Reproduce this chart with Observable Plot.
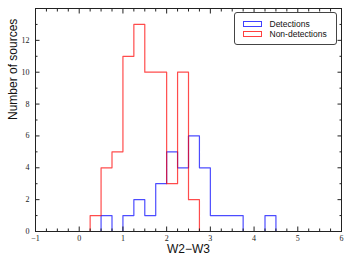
<!DOCTYPE html>
<html><head><meta charset="utf-8">
<script src="https://cdn.jsdelivr.net/npm/d3@7"></script>
<script src="https://cdn.jsdelivr.net/npm/@observablehq/plot@0.6"></script>
<style>
body{margin:0;background:#fff;}
#wrap{position:relative;width:352px;height:264px;}
.legend{position:absolute;left:234px;top:12px;width:101px;height:31px;border:1px solid #444;border-radius:3px;background:#fff;font-family:"Liberation Sans",Arial,sans-serif;font-size:8.5px;color:#111;}
.sw{position:absolute;left:8px;width:17px;height:4px;border:1px solid;}
.lt{position:absolute;left:34.5px;line-height:10px;white-space:nowrap;}
</style>
</head><body>
<div id="wrap"></div>
<script>
const binStart = [-1,-0.75,-0.5,-0.25,0,0.25,0.5,0.75,1,1.25,1.5,1.75,2,2.25,2.5,2.75,3,3.25,3.5,3.75,4,4.25,4.5,4.75,5,5.25,5.5,5.75];
const binEnd = 6;
const detections    = [0,0,0,0,0,0,1,0,1,2,1,3,5,4,6,4,1,1,1,0,0,1,0,0,0,0,0,0];
const nonDetections = [0,0,0,0,0,1,4,5,11,13,10,10,3,10,2,0,0,0,0,0,0,0,0,0,0,0,0,0];
const seriesNames = ["Detections","Non-detections"];
const seriesColors = ["#0000ff","#ff0000"];
const xMajor = [-1,0,1,2,3,4,5,6];
const xMinor = [-0.75,-0.5,-0.25,0.25,0.5,0.75,1.25,1.5,1.75,2.25,2.5,2.75,3.25,3.5,3.75,4.25,4.5,4.75,5.25,5.5,5.75];
const yMajor = [0,2,4,6,8,10,12];
const yMinor = [1,3,5,7,9,11,13];
const xLabel = "W2−W3";
const yLabel = "Number of sources";

function steps(counts){
  const pts = binStart.map((x,i)=>({x, y:counts[i]}));
  pts.push({x: binEnd, y: counts[counts.length-1]});
  return pts;
}
const fmt = d => d < 0 ? "−" + Math.abs(d) : String(d);
const blank = () => "";
const serif = "Liberation Serif, serif";
const sans = "Liberation Sans, Arial, sans-serif";

const chart = Plot.plot({
  width:352, height:264, marginLeft:35, marginRight:11, marginTop:8, marginBottom:33,
  x:{domain:[-1,6]}, y:{domain:[0,14]},
  style:{background:"white", fontFamily:serif, fontSize:"8px", color:"#222"},
  marks:[
    Plot.line(steps(detections), {x:"x", y:"y", curve:"step-after", stroke:seriesColors[0], strokeOpacity:0.7, strokeWidth:1.2}),
    Plot.line(steps(nonDetections), {x:"x", y:"y", curve:"step-after", stroke:seriesColors[1], strokeOpacity:0.7, strokeWidth:1.2}),
    Plot.axisX({ticks:xMajor, tickSize:-4.5, tickPadding:8.5, tickFormat:fmt, label:null, fontFamily:serif, fontSize:8}),
    Plot.axisX({ticks:xMinor, tickSize:-2.5, tickFormat:blank, label:null}),
    Plot.axisX({anchor:"top", ticks:xMajor, tickSize:-4.5, tickFormat:blank, label:null}),
    Plot.axisX({anchor:"top", ticks:xMinor, tickSize:-2.5, tickFormat:blank, label:null}),
    Plot.axisY({ticks:yMajor, tickSize:-4.5, tickPadding:10.5, tickFormat:fmt, label:null, fontFamily:serif, fontSize:8}),
    Plot.axisY({ticks:yMinor, tickSize:-2.5, tickFormat:blank, label:null}),
    Plot.axisY({anchor:"right", ticks:yMajor, tickSize:-4.5, tickFormat:blank, label:null}),
    Plot.axisY({anchor:"right", ticks:yMinor, tickSize:-2.5, tickFormat:blank, label:null}),
    Plot.frame({stroke:"#222"}),
    Plot.text([xLabel], {text:d=>d, frameAnchor:"bottom", dy:21, fontFamily:sans, fontSize:12, fill:"#111"}),
    Plot.text([yLabel], {text:d=>d, frameAnchor:"left", rotate:-90, dx:-22.5, fontFamily:sans, fontSize:12, fill:"#111"})
  ]
});
const wrap = document.getElementById("wrap");
wrap.appendChild(chart);
const lg = document.createElement("div");
lg.className = "legend";
seriesNames.forEach((name,i)=>{
  const sw = document.createElement("div");
  sw.className = "sw";
  sw.style.top = (7.7 + i*10) + "px";
  sw.style.borderColor = seriesColors[i];
  sw.style.opacity = 0.75;
  const t = document.createElement("div");
  t.className = "lt";
  t.style.top = (5.75 + i*10) + "px";
  t.textContent = name;
  lg.appendChild(sw); lg.appendChild(t);
});
wrap.appendChild(lg);
</script>
</body></html>
